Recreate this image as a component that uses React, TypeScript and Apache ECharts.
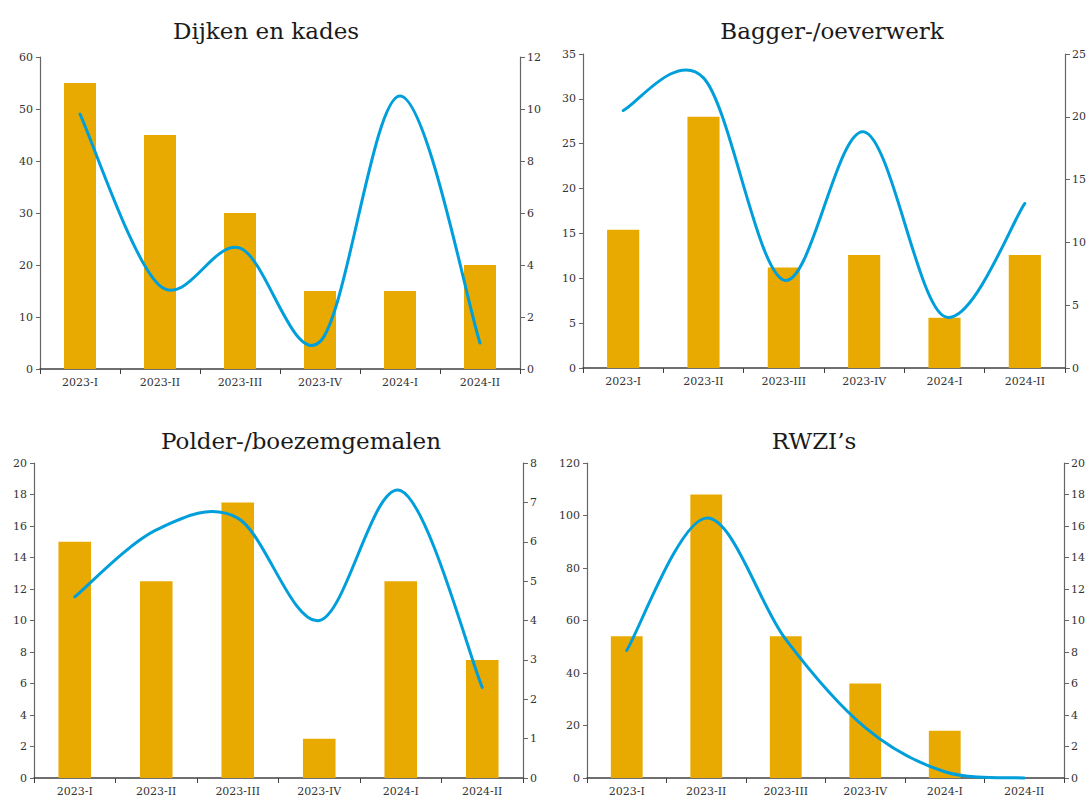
import React, { useEffect, useRef } from "react";
import * as echarts from "echarts";

const categories = ["2023-I", "2023-II", "2023-III", "2023-IV", "2024-I", "2024-II"];

const titles = ["Dijken en kades", "Bagger-/oeverwerk", "Polder-/boezemgemalen", "RWZI\u2019s"];

const dijkenBars = [55, 45, 30, 15, 15, 20];
const dijkenLine = [9.8, 3.2, 4.65, 1.05, 10.5, 1.0];

const baggerBars = [15.4, 28, 11.2, 12.6, 5.6, 12.6];
const baggerLine = [20.5, 23.1, 7, 18.8, 4.1, 13.1];

const polderBars = [15, 12.5, 17.5, 2.5, 12.5, 7.5];
const polderLine = [4.6, 6.3, 6.6, 4.0, 7.3, 2.3];

const rwziBars = [54, 108, 54, 36, 18, 0];
const rwziLine = [8.1, 16.5, 8.8, 3.2, 0.4, 0];

// left axis [max, interval], right axis [max, interval]
const leftAxes = [[60, 10], [35, 5], [20, 2], [120, 20]];
const rightAxes = [[12, 2], [25, 5], [8, 1], [20, 2]];

const barsList = [dijkenBars, baggerBars, polderBars, rwziBars];
const linesList = [dijkenLine, baggerLine, polderLine, rwziLine];

const grids = [
  { left: 40, top: 57, width: 480, height: 312 },
  { left: 583, top: 54, width: 484, height: 314 },
  { left: 34, top: 463, width: 489, height: 315 },
  { left: 587, top: 463, width: 477, height: 315 },
];
const titlePos = [
  { x: 261, y: 14 },
  { x: 827, y: 14 },
  { x: 296, y: 424 },
  { x: 809, y: 424 },
];

const BAR = "#E8AA00";
const LINE = "#009FDB";
const FONT = "DejaVu Serif";

// Excel-style smoothed line (Catmull-Rom) drawn through the series' points via the axes
function makeSmoothRender(values: number[]) {
  return (params: any, api: any) => {
    if (params.dataIndex !== 0) return null;
    const pts = values.map((v, j) => api.coord([j, v]));
    const n = pts.length;
    let d = `M${pts[0][0]},${pts[0][1]}`;
    for (let i = 0; i < n - 1; i++) {
      const p0 = pts[Math.max(i - 1, 0)];
      const p1 = pts[i];
      const p2 = pts[i + 1];
      const p3 = pts[Math.min(i + 2, n - 1)];
      const c1x = p1[0] + (p2[0] - p0[0]) / 6;
      const c1y = p1[1] + (p2[1] - p0[1]) / 6;
      const c2x = p2[0] - (p3[0] - p1[0]) / 6;
      const c2y = p2[1] - (p3[1] - p1[1]) / 6;
      d += ` C${c1x},${c1y} ${c2x},${c2y} ${p2[0]},${p2[1]}`;
    }
    return {
      type: "path",
      shape: { pathData: d },
      style: { stroke: LINE, lineWidth: 3, fill: "none", lineCap: "round", lineJoin: "round" },
      silent: true,
    };
  };
}

export default function App() {
  const ref = useRef<HTMLDivElement>(null);
  useEffect(() => {
    if (!ref.current) return;
    const chart = echarts.init(ref.current, undefined, { renderer: "svg" });
    const xAxis: any[] = [];
    const yAxis: any[] = [];
    const series: any[] = [];
    grids.forEach((g, i) => {
      xAxis.push({
        type: "category",
        gridIndex: i,
        data: categories,
        boundaryGap: true,
        axisLine: { lineStyle: { color: "#404040", width: 1.5 } },
        axisTick: { show: true, length: 5, lineStyle: { color: "#404040" } },
        axisLabel: { color: "#333", fontFamily: FONT, fontSize: 11, margin: 8, interval: 0 },
      });
      yAxis.push({
        type: "value",
        gridIndex: i,
        min: 0,
        max: leftAxes[i][0],
        interval: leftAxes[i][1],
        position: "left",
        axisLine: { show: true, lineStyle: { color: "#666", width: 1.2 } },
        axisTick: { show: true, length: 4, lineStyle: { color: "#666" } },
        splitLine: { show: false },
        axisLabel: { color: "#333", fontFamily: FONT, fontSize: 11, margin: 7 },
      });
      yAxis.push({
        type: "value",
        gridIndex: i,
        min: 0,
        max: rightAxes[i][0],
        interval: rightAxes[i][1],
        position: "right",
        axisLine: { show: true, lineStyle: { color: "#666", width: 1.2 } },
        axisTick: { show: true, length: 5, lineStyle: { color: "#666" } },
        splitLine: { show: false },
        axisLabel: { color: "#333", fontFamily: FONT, fontSize: 11, margin: 7 },
      });
      series.push({
        type: "bar",
        xAxisIndex: i,
        yAxisIndex: i * 2,
        data: barsList[i],
        barWidth: "40%",
        itemStyle: { color: BAR },
      });
      series.push({
        type: "custom",
        coordinateSystem: "cartesian2d",
        xAxisIndex: i,
        yAxisIndex: i * 2 + 1,
        data: linesList[i].map((v, j) => [j, v]),
        encode: { x: 0, y: 1 },
        clip: false,
        renderItem: makeSmoothRender(linesList[i]),
        z: 3,
      });
    });
    chart.setOption({
      animation: false,
      backgroundColor: "#fff",
      title: titles.map((t, i) => ({
        text: t,
        left: titlePos[i].x,
        top: titlePos[i].y,
        textAlign: "center",
        textStyle: { fontFamily: FONT, fontSize: 23, fontWeight: "normal", color: "#1a1a1a" },
      })),
      grid: grids.map((g) => ({ ...g, containLabel: false })),
      xAxis,
      yAxis,
      series,
    });
    return () => chart.dispose();
  }, []);
  return (
    <div
      ref={ref}
      style={{ position: "fixed", left: 0, top: 0, width: 1089, height: 800, background: "#fff" }}
    />
  );
}
